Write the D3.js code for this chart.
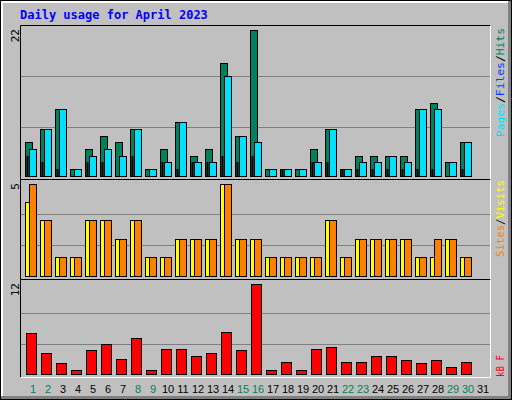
<!DOCTYPE html>
<html><head><script src="https://cdn.jsdelivr.net/npm/d3@7"></script>
<style>body{margin:0;background:#fff}</style></head><body>
<script>
const days=d3.range(1,32);
const hits=[5,7,10,1,4,6,5,7,1,4,8,3,4,17,6,22,1,1,1,4,7,1,3,3,3,3,10,11,2,5,0];
const files=[4,7,10,1,3,4,3,7,1,2,8,2,2,15,6,5,1,1,1,2,7,1,2,2,3,2,10,10,2,5,0];
const pages=[3,2,1,0,2,2,0,3,0,2,1,2,2,3,2,3,0,1,0,2,2,1,1,1,1,1,1,1,0,1,0];
const visits=[4,3,1,1,3,3,2,3,1,1,2,2,2,5,2,2,1,1,1,1,3,1,2,2,2,2,1,1,2,1,0];
const sites=[5,3,1,1,3,3,2,3,1,1,2,2,2,5,2,2,1,1,1,1,3,1,2,2,2,2,1,2,2,1,0];
const kbytes=[5.4,2.8,1.36,0.44,3.2,4.0,2.0,4.8,0.44,3.33,3.33,2.4,2.67,5.57,3.2,12,0.44,1.6,0.44,3.33,3.6,1.6,1.6,2.4,2.28,1.75,1.36,1.75,0.83,1.6,0];
const weekend=[1,2,8,9,15,16,22,23,29,30];
const C={hit:"#00805c",file:"#0040ff",page:"#00e0ff",visit:"#ffff00",site:"#ff8000",kb:"#ff0000"};

const svg=d3.select("body").append("svg").attr("width",512).attr("height",400).style("font-family","'DejaVu Sans Mono',monospace");
svg.append("rect").attr("x",0).attr("y",0).attr("width",512).attr("height",400).attr("fill","#000");
svg.append("rect").attr("x",1).attr("y",1).attr("width",510).attr("height",398).attr("fill","#808080");
svg.append("rect").attr("x",1).attr("y",1).attr("width",507).attr("height",395).attr("fill","#fff");
svg.append("rect").attr("x",3).attr("y",3).attr("width",505).attr("height",393).attr("fill","#c0c0c0");
svg.append("text").attr("x",20).attr("y",19).text("Daily usage for April 2023").attr("fill","#0000ff").attr("font-weight","bold").attr("font-size",12);

const x=d3.scaleLinear().domain([1,2]).range([25,40]);
function panel(y0,y1,max,gridFr){
  svg.append("rect").attr("x",20.5).attr("y",y0+0.5).attr("width",470).attr("height",y1-y0).attr("fill","#c0c0c0").attr("stroke","none");
  svg.append("path").attr("d",`M20.5,${y1+0.5}V${y0+0.5}H490.5`).attr("stroke","#000").attr("fill","none");
  svg.append("path").attr("d",`M20.5,${y1+0.5}H490.5V${y0+0.5}`).attr("stroke","#fff").attr("fill","none");
  const y=d3.scaleLinear().domain([0,max]).range([y1-3.5,y0+4.5]);
  gridFr.forEach(f=>svg.append("line").attr("x1",21).attr("x2",490).attr("y1",Math.round(y(max*f))+0.5).attr("y2",Math.round(y(max*f))+0.5).attr("stroke","#808080"));
  svg.append("text").attr("transform",`translate(19,${y0+4}) rotate(-90)`).attr("text-anchor","end").attr("font-size",11).text(max);
  return y;
}
function bars(y,vals,dx,w,col){
  svg.append("g").selectAll("rect").data(days.filter((d,i)=>vals[i]>0)).join("rect")
    .attr("x",d=>x(d)+dx+0.5).attr("width",w).attr("y",d=>Math.round(y(vals[d-1]))+0.5)
    .attr("height",d=>Math.round(y(0))-Math.round(y(vals[d-1]))).attr("fill",col).attr("stroke","#000");
}
const y1=panel(25,179,22,[0.68,0.335]);
bars(y1,hits,0,7,C.hit);
bars(y1,files,4,7,C.page);
bars(y1,pages,1.5,1,C.file);
const y2=panel(179,279,5,[0.67,0.33]);
bars(y2,visits,0,7,C.visit);
bars(y2,sites,4,7,C.site);
const y3=panel(279,377,12,[0.67,0.33]);
bars(y3,kbytes,1,10,C.kb);

svg.append("g").selectAll("text").data(days).join("text").attr("x",d=>x(d)+8).attr("y",393)
  .attr("text-anchor","middle").attr("font-size",11).attr("font-family","'Liberation Sans',sans-serif")
  .attr("fill",d=>weekend.includes(d)?"#00805c":"#000").text(d=>d);

function rlab(yb,len,parts){
  const t=svg.append("text").attr("transform",`translate(504,${yb}) rotate(-90)`).attr("font-size",10)
    .attr("textLength",len).attr("lengthAdjust","spacingAndGlyphs");
  parts.forEach(([s,c])=>t.append("tspan").text(s).attr("fill",c));
}
rlab(137,109,[["Pages",C.page],["/","#000"],["Files",C.file],["/","#000"],["Hits",C.hit]]);
rlab(257,77,[["Sites",C.site],["/","#000"],["Visits",C.visit]]);
rlab(377,22,[["kB F",C.kb]]);
</script></body></html>
